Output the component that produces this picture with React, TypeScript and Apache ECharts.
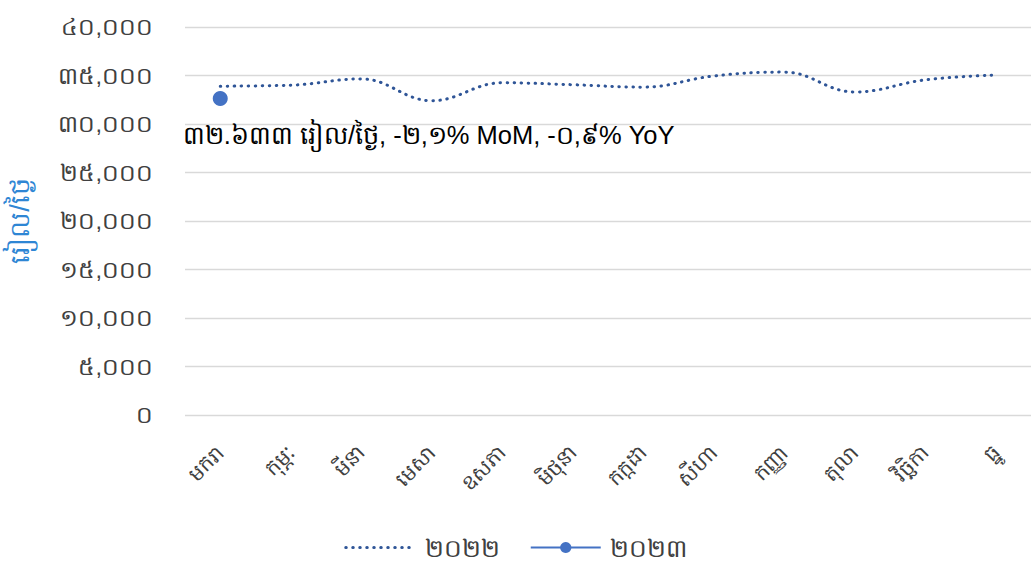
import React, { useEffect, useRef } from "react";
import * as echarts from "echarts";

const months = ["មករា", "កុម្ភៈ", "មីនា", "មេសា", "ឧសភា", "មិថុនា", "កក្កដា", "សីហា", "កញ្ញា", "តុលា", "វិច្ឆិកា", "ធ្នូ"];
const values2022 = [33900, 34000, 34650, 32400, 34250, 34050, 33800, 34950, 35350, 33300, 34550, 35050];
const values2023 = [32633];
const seriesNames = ["២០២២", "២០២៣"];
const yAxisName = "រៀល/ថ្ងៃ";
const annotation = "៣២.៦៣៣ រៀល/ថ្ងៃ, -២,១% MoM, -០,៩% YoY";

const khDigits = "០១២៣៤៥៦៧៨៩";
const toKhmer = (s: string) => s.replace(/[0-9]/g, (d) => khDigits[+d]);
const fmt = (v: number) => toKhmer(Math.round(v).toString().replace(/\B(?=(\d{3})+(?!\d))/g, ","));

export default function App() {
  const ref = useRef<HTMLDivElement>(null);
  useEffect(() => {
    if (!ref.current) return;
    const chart = echarts.init(ref.current, undefined, { renderer: "svg" });
    const font = "'Liberation Sans', 'Noto Sans', 'DejaVu Sans', sans-serif";
    chart.setOption({
      animation: false,
      textStyle: { fontFamily: font },
      grid: { left: 185, right: 0, top: 27, bottom: 152, containLabel: false, outerBoundsMode: "none" },
      legend: {
        bottom: 2,
        left: "center",
        itemWidth: 70,
        itemHeight: 14,
        itemGap: 30,
        textStyle: { fontSize: 25, color: "#404040", padding: [0, 0, 0, 4] },
        data: [
          { name: seriesNames[0], itemStyle: { opacity: 0 }, lineStyle: { width: 3 } },
          { name: seriesNames[1] },
        ],
      },
      xAxis: {
        type: "category",
        data: months,
        boundaryGap: true,
        axisLine: { show: false },
        axisTick: { show: false },
        axisLabel: { rotate: 45, fontSize: 21, color: "#404040", margin: 34, interval: 0 },
      },
      yAxis: {
        type: "value",
        min: 0,
        max: 40000,
        interval: 5000,
        name: yAxisName,
        nameLocation: "middle",
        nameGap: 152,
        nameRotate: 90,
        nameTextStyle: { color: "#2E86D4", fontSize: 27 },
        axisLabel: { fontSize: 23.5, color: "#404040", margin: 32, formatter: (v: number) => fmt(v) },
        splitLine: { lineStyle: { color: "#D9D9D9", width: 1.3 } },
      },
      series: [
        {
          name: seriesNames[0],
          type: "line",
          data: values2022,
          smooth: 0.4,
          symbol: "none",
          lineStyle: { color: "#2F5597", width: 3, type: [0.5, 6.5], cap: "round" },
          itemStyle: { color: "#2F5597" },
        },
        {
          name: seriesNames[1],
          type: "line",
          data: values2023,
          symbol: "circle",
          symbolSize: 15,
          lineStyle: { color: "#4472C4", width: 3 },
          itemStyle: { color: "#4472C4" },
          label: {
            show: true,
            formatter: () => annotation,
            position: [-30, 31],
            fontSize: 25.5,
            color: "#000",
          },
        },
      ],
    });
    return () => chart.dispose();
  }, []);
  return <div ref={ref} style={{ position: "absolute", left: 0, top: 0, width: 1031, height: 567 }} />;
}
